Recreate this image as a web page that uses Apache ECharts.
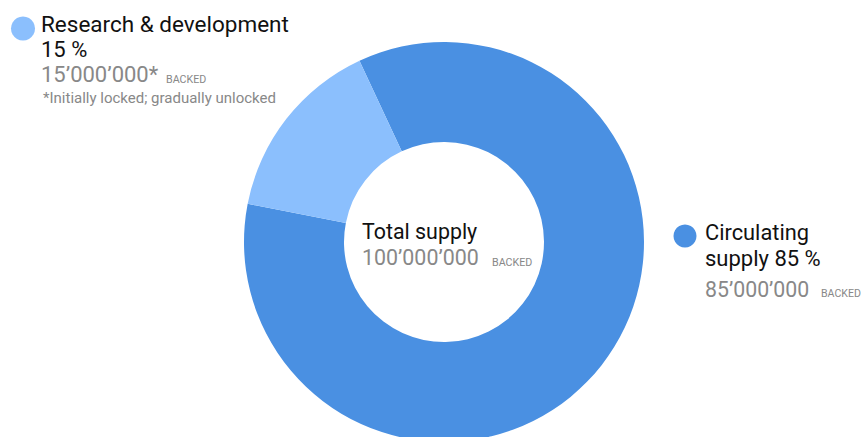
<!DOCTYPE html>
<html>
<head>
<meta charset="utf-8">
<script src="https://cdn.jsdelivr.net/npm/echarts@6/dist/echarts.min.js"></script>
<style>
html,body{margin:0;padding:0;background:#fff;}
#chart{width:861px;height:437px;}
</style>
</head>
<body>
<div id="chart"></div>
<script>
// ---- data ----
const categories = ['Circulating supply', 'Research & development'];
const values = [85000000, 15000000];
const unit = 'BACKED';
const totalLabel = 'Total supply';
const footnote = '*Initially locked; gradually unlocked';

// ---- helpers ----
const fmt = n => String(n).replace(/\B(?=(\d{3})+(?!\d))/g, '\u2019');
const total = values.reduce((a, b) => a + b, 0);
const pct = v => Math.round(v / total * 100) + ' %';

const DARK = '#4a90e2';
const LIGHT = '#8bbffd';
const BLACK = '#111';
const GRAY = '#888';
const FONT = 'Roboto, "Noto Sans", sans-serif';

function txt(x, y, text, size, color, extra) {
  return Object.assign({
    type: 'text', x: x, y: y, silent: true,
    style: { text: text, fontSize: size, fontFamily: FONT, fill: color, verticalAlign: 'middle', align: 'left' }
  }, extra || {});
}

const chart = echarts.init(document.getElementById('chart'), null, { renderer: 'svg' });
chart.setOption({
  animation: false,
  color: [DARK, LIGHT],
  series: [{
    type: 'pie',
    radius: [100, 200],
    center: [444, 242],
    startAngle: 115,
    clockwise: true,
    silent: true,
    label: { show: false },
    labelLine: { show: false },
    itemStyle: { borderWidth: 0 },
    data: categories.map((c, i) => ({ name: c, value: values[i] }))
  }],
  graphic: [
    // Research & development legend (top-left)
    { type: 'circle', shape: { cx: 23, cy: 28.5, r: 12 }, style: { fill: LIGHT }, silent: true },
    txt(41, 23.5, categories[1], 22.5, BLACK),
    txt(41, 49.5, pct(values[1]), 22, BLACK),
    txt(41, 74, fmt(values[1]) + '*', 22, GRAY),
    txt(166, 79, unit, 10.7, GRAY),
    txt(43, 98, footnote, 15, GRAY),
    // Circulating supply legend (right)
    { type: 'circle', shape: { cx: 685, cy: 236, r: 11.5 }, style: { fill: DARK }, silent: true },
    txt(705, 232, categories[0].split(' ')[0], 21.8, BLACK),
    txt(705, 258, categories[0].split(' ')[1] + ' ' + pct(values[0]), 22, BLACK),
    txt(705, 289.5, fmt(values[0]), 21.3, GRAY),
    txt(821, 293.5, unit, 10.6, GRAY),
    // Center text
    txt(362, 231.5, totalLabel, 21.4, BLACK),
    txt(362, 257.5, fmt(total), 21.4, GRAY),
    txt(492, 262, unit, 10.7, GRAY)
  ]
});
</script>
</body>
</html>
